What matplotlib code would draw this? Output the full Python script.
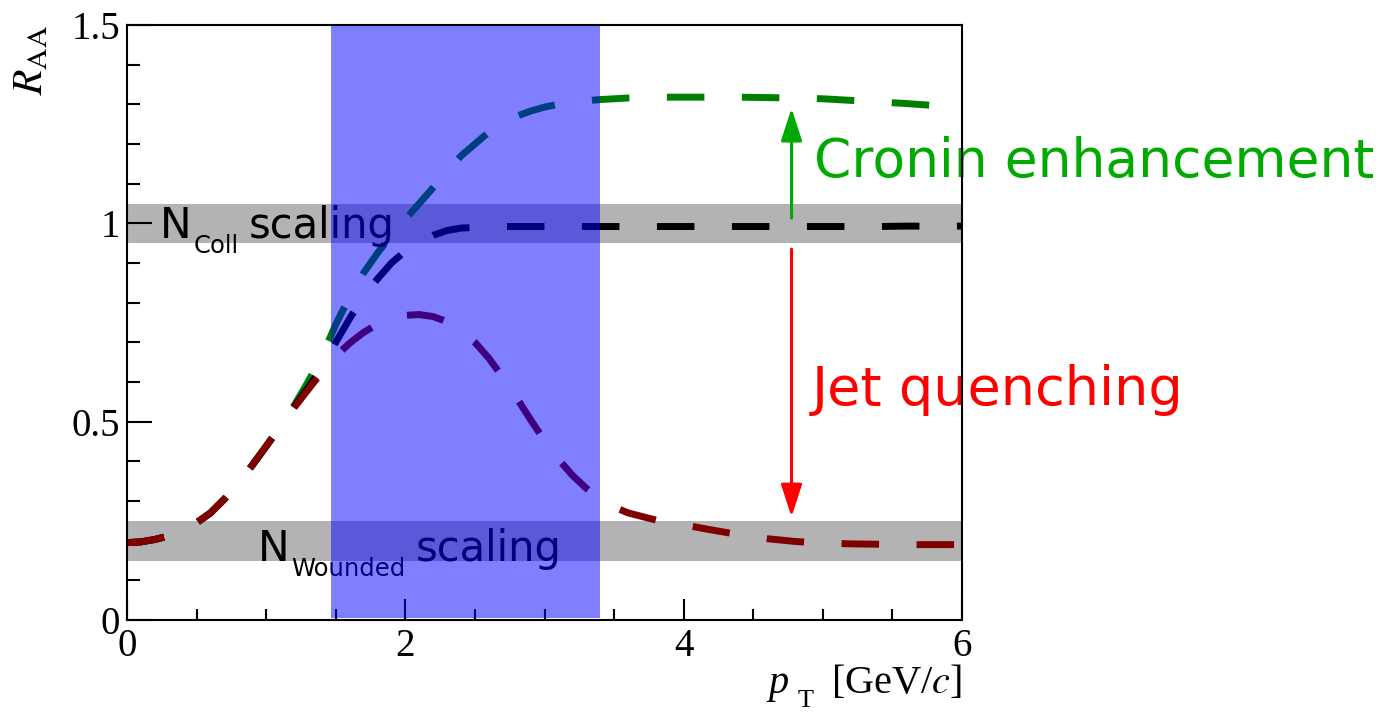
import matplotlib
matplotlib.use("Agg")
import matplotlib.pyplot as plt
from matplotlib.ticker import MultipleLocator, FixedLocator

# ---------------- data ----------------
pt = [0.0, 0.1, 0.2, 0.3, 0.4, 0.5, 0.6, 0.7, 0.8, 0.9,
      1.0, 1.1, 1.2, 1.3, 1.4, 1.5, 1.6, 1.7, 1.8, 1.9,
      2.0, 2.1, 2.2, 2.3, 2.4, 2.5, 2.6, 2.7, 2.8, 2.9,
      3.0, 3.1, 3.2, 3.3, 3.4, 3.5, 3.6,
      3.8, 4.0, 4.2, 4.4, 4.6, 4.8, 5.0, 5.2, 5.4, 5.6, 5.8, 6.0]

raa_cronin = [0.195, 0.197, 0.203, 0.212, 0.225, 0.245, 0.27, 0.305, 0.345, 0.39,
              0.438, 0.488, 0.54, 0.60, 0.665, 0.745, 0.815, 0.875, 0.925, 0.97,
              1.01, 1.05, 1.09, 1.13, 1.17, 1.20, 1.23, 1.252, 1.27, 1.283,
              1.293, 1.30, 1.305, 1.309, 1.312, 1.314, 1.316,
              1.318, 1.318, 1.318, 1.318, 1.317, 1.316, 1.314, 1.31, 1.306, 1.302, 1.297, 1.292]

raa_ncoll = [0.195, 0.197, 0.203, 0.212, 0.225, 0.245, 0.27, 0.305, 0.345, 0.39,
             0.438, 0.487, 0.537, 0.585, 0.635, 0.70, 0.76, 0.815, 0.86, 0.90,
             0.93, 0.953, 0.97, 0.982, 0.988, 0.99, 0.991, 0.992, 0.992, 0.992,
             0.992, 0.992, 0.992, 0.992, 0.992, 0.992, 0.992,
             0.992, 0.992, 0.992, 0.992, 0.992, 0.992, 0.992, 0.992, 0.992, 0.993, 0.993, 0.993]

raa_quench = [0.195, 0.197, 0.203, 0.212, 0.225, 0.245, 0.27, 0.305, 0.345, 0.39,
              0.438, 0.486, 0.535, 0.58, 0.625, 0.665, 0.698, 0.725, 0.746, 0.76,
              0.768, 0.77, 0.765, 0.752, 0.73, 0.70, 0.66, 0.612, 0.56, 0.505,
              0.452, 0.405, 0.365, 0.332, 0.305, 0.285, 0.27,
              0.252, 0.24, 0.227, 0.215, 0.205, 0.198, 0.194, 0.192, 0.191, 0.19, 0.19, 0.19]

ncoll_band = [0.95, 1.05]
nwound_band = [0.15, 0.25]
blue_region = [1.466, 3.40]
arrow_x = 4.775
cronin_arrow = [1.013, 1.29]
quench_arrow = [0.935, 0.26]

xticks_major = [0, 2, 4, 6]
yticks_major = [0, 0.5, 1, 1.5]
xtick_labels = ["0", "2", "4", "6"]
ytick_labels = ["0", "0.5", "1", "1.5"]

# ---------------- figure ----------------
W, H = 1379, 713
fig = plt.figure(figsize=(W / 100, H / 100), dpi=100)
ax = fig.add_axes([127 / W, 1 - 620 / H, (962 - 127) / W, (620 - 25) / H])
ax.set_xlim(0, 6)
ax.set_ylim(0, 1.5)

# gray bands
ax.axhspan(ncoll_band[0], ncoll_band[1], color="#b3b3b3", lw=0, zorder=1)
ax.axhspan(nwound_band[0], nwound_band[1], color="#b3b3b3", lw=0, zorder=1)

lw = 5.0
dash = (5.4, 5.4)
for y, c, z in [(raa_cronin, "#008000", 2), (raa_ncoll, "black", 3), (raa_quench, "#800000", 4)]:
    ax.plot(pt, y, color=c, lw=lw, dashes=dash, dash_capstyle="butt",
            solid_capstyle="butt", zorder=z)


# band labels: N, subscript, "scaling"
def band_label(x0, ybase, sub):
    t1 = ax.text(x0, ybase, "N", fontsize=30.5, family="DejaVu Sans",
                 va="baseline", ha="left", zorder=5)
    t2 = ax.annotate(sub, xy=(1, ybase), xycoords=(t1, "data"), xytext=(1.5, -10.8),
                     textcoords="offset points", fontsize=17.5, family="DejaVu Sans",
                     va="baseline", ha="left", zorder=5)
    ax.annotate("scaling", xy=(1, ybase), xycoords=(t2, "data"), xytext=(7, 0),
                textcoords="offset points", fontsize=30, family="DejaVu Sans",
                va="baseline", ha="left", zorder=5)


band_label(0.237, 0.963, "Coll")
band_label(0.941, 0.148, "Wounded")

# blue highlighted region
ax.axvspan(blue_region[0], blue_region[1], ymin=0.004, ymax=1.0, color="blue",
           alpha=0.5, lw=0, zorder=6)

# arrows
ax.annotate("", xy=(arrow_x, cronin_arrow[1]), xytext=(arrow_x, cronin_arrow[0]),
            arrowprops=dict(arrowstyle="-|>,head_length=0.4,head_width=0.13",
                            mutation_scale=50, color="#00aa00", lw=2.2,
                            shrinkA=0, shrinkB=0), zorder=7)
ax.annotate("", xy=(arrow_x, quench_arrow[1]), xytext=(arrow_x, quench_arrow[0]),
            arrowprops=dict(arrowstyle="-|>,head_length=0.4,head_width=0.13",
                            mutation_scale=50, color="#ff0000", lw=2.2,
                            shrinkA=0, shrinkB=0), zorder=7)

ax.text(4.94, 1.155, "Cronin enhancement", fontsize=38.5, color="#00aa00",
        family="DejaVu Sans", va="center", ha="left", clip_on=False)
ax.text(4.92, 0.58, "Jet quenching", fontsize=39, color="#ff0000",
        family="DejaVu Sans", va="center", ha="left", clip_on=False)

# axes styling (ROOT-like)
for s in ax.spines.values():
    s.set_linewidth(1.5)
    s.set_zorder(10)
ax.xaxis.set_major_locator(FixedLocator(xticks_major))
ax.yaxis.set_major_locator(FixedLocator(yticks_major))
ax.xaxis.set_minor_locator(MultipleLocator(0.5))
ax.yaxis.set_minor_locator(MultipleLocator(0.1))
ax.set_xticklabels(xtick_labels, family="Liberation Serif", fontsize=28)
ax.set_yticklabels(ytick_labels, family="Liberation Serif", fontsize=28)
ax.tick_params(axis="x", which="major", direction="in", length=15, width=1.5, pad=6)
ax.tick_params(axis="x", which="minor", direction="in", length=7.7, width=1.5)
ax.tick_params(axis="y", which="major", direction="in", length=18, width=1.5, pad=5)
ax.tick_params(axis="y", which="minor", direction="in", length=9.4, width=1.5)
ax.tick_params(top=False, right=False, which="both")

# axis titles
fig.text(30 / W, 1 - 25 / H, r"$R_{\rm AA}$", rotation=90, fontsize=30,
         ha="center", va="top", math_fontfamily="stix")
fig.text(962 / W, 1 - 693 / H, r"[GeV/$c$]", fontsize=29, family="Liberation Serif",
         math_fontfamily="stix", ha="right", va="baseline")
fig.text(768 / W, 1 - 693 / H, "p", fontsize=29, family="Liberation Serif",
         style="italic", ha="left", va="baseline")
fig.text(798 / W, 1 - 707 / H, "T", fontsize=19, family="Liberation Serif",
         ha="left", va="baseline")

fig.savefig("out.png", dpi=100)
